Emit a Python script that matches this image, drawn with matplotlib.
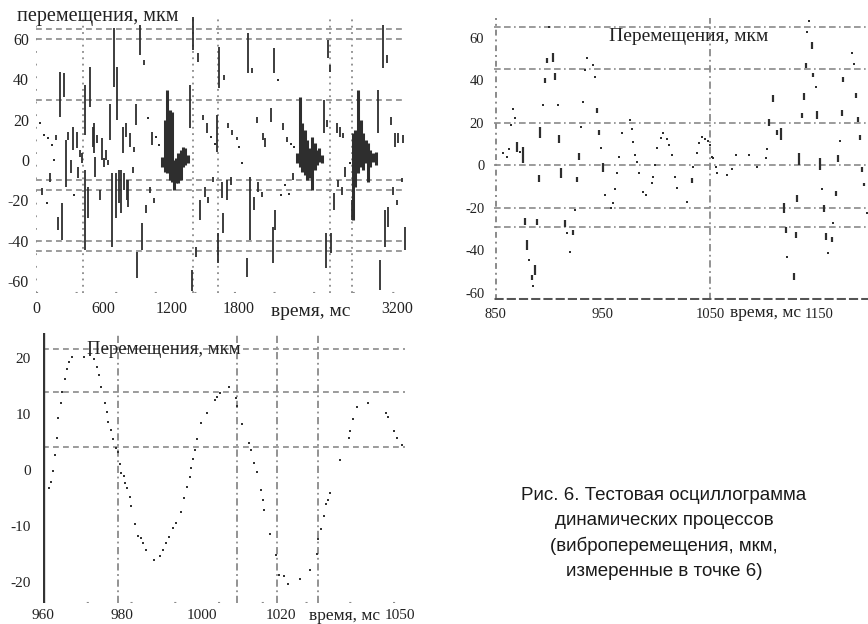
import matplotlib
matplotlib.use("Agg")
import matplotlib.pyplot as plt

SERIF = ["Liberation Serif", "DejaVu Serif"]
SANS = ["Liberation Sans", "DejaVu Sans"]

# ---------------- Panel 1: 0..3200 ms overview ----------------
p1_bar_t = [124, 50, 177, 213, 248, 198, 228, 266, 286, 308, 325, 361, 375, 390, 405,
            434, 434, 464, 479, 503, 514, 523, 543, 567, 582, 603, 621, 641, 656, 671,
            694, 709, 721, 736, 751, 769, 780, 798, 809, 818, 833, 857, 869, 887, 898,
            922, 937, 957, 975, 1011, 1031, 1046,
            1365, 1389, 1383, 1418, 1439, 1454, 1478, 1498, 1513, 1528, 1567, 1602, 1616,
            1625, 1646, 1655, 1667, 1690, 1705, 1726, 1735, 1779, 1868, 1882, 1897, 1918,
            1933, 1957, 1971, 2001, 2015, 2030, 2080, 2098, 2119, 2113, 2187, 2222, 2275,
            2553, 2571, 2591, 2606, 2613, 2583, 2645, 2666, 2680, 2695, 2710, 2725, 2739,
            2799, 3035, 3050, 3073, 3094, 3109, 3124, 3145, 3162, 3183, 3197, 3212, 3242,
            3256, 3271]
p1_bar_lo = [-10.7, -17.3, 9.9, 21.5, 31.4, -34.7, -39.7, -13.2, 9.9, -6.6, 5.0, 5.8, -9.1, 1.7, -1.7,
             12.4, -44.6, -28.9, 26.4, 6.6, 3.3, -8.3, 8.3, -19.8, 0.0, -3.3, 0.0, -2.5, 9.9, -43.0,
             36.3, -28.9, 19.8, -21.5, -26.4, 3.3, -14.9, 11.6, -19.8, -23.1, 6.6, -6.6, 4.1, 17.3, -58.7,
             52.1, -44.6, 47.1, -26.4, -16.5, 7.4, -21.5,
             15.7, 54.5, -65.0, -48.0, 48.7, -29.8, 19.8, -18.2, 13.2, -21.5, -10.7, 4.1, -51.2,
             35.5, -19.0, -36.3, 39.7, -19.8, 15.7, -12.4, 12.4, 9.9, -57.9, 43.0, -39.7, 43.0,
             -24.8, 18.2, -15.7, -18.2, 9.9, 6.6, 19.0, -51.2, -34.7, 43.0, 14.9, 9.1, -9.9,
             13.2, -53.7, 50.4, 43.8, -46.3, 16.5, -24.8, 13.2, -13.2, 11.6, -17.3, 10.7, -8.3,
             -29.8, 13.2, -64.5, 45.5, -43.0, 47.9, -33.0, 17.3, -17.3, 6.6, -22.3, 8.3, -10.7,
             8.3, -44.6]
p1_bar_hi = [-6.6, -14.0, 12.4, 43.8, 43.0, -28.1, -21.5, 9.9, 14.0, 0.0, 16.5, 14.0, -3.3, 5.0, 3.3,
             37.0, -5.0, -13.2, 46.3, 16.5, 18.2, 1.7, 12.4, -14.9, 10.7, 0.8, 5.0, 0.0, 28.0, -6.6,
             65.3, -6.6, 46.3, -5.0, -5.0, 16.5, -6.6, 18.2, -9.9, -9.9, 13.2, -3.3, 6.6, 28.0, -45.5,
             66.9, -31.4, 49.6, -22.3, -13.2, 14.0, -19.0,
             37.2, 71.0, -54.5, -43.0, 52.9, -19.8, 22.3, -13.2, 18.2, -18.2, -8.3, 22.3, -36.3,
             56.2, -10.7, -26.4, 42.1, -9.9, 18.2, -8.3, 14.9, 11.4, -48.7, 62.8, -8.3, 45.5,
             -18.2, 21.5, -10.7, -15.7, 13.2, 10.7, 25.6, -33.0, -24.8, 55.4, 18.2, 11.6, -6.6,
             29.7, -36.3, 59.5, 47.1, -36.3, 19.8, -16.5, 18.2, -9.9, 16.5, -13.2, 13.2, -3.3,
             -19.8, 34.7, -49.6, 66.9, -24.8, 52.1, -23.1, 21.5, -13.2, 13.2, -19.8, 13.2, -9.1,
             12.4, -33.0]
p1_dot_t = [35, 74, 109, 139, 162, 95, 337, 996, 1064, 1093, 1549, 1587, 1803, 1824, 2148,
            2169, 2207, 2245, 2260, 2290, 2784]
p1_dot_v = [18.5, 12.4, 10.7, 7.4, 0.0, -21.5, -17.3, 20.7, 11.6, 7.4, 11.6, 8.0, 6.6, -1.7, 39.7,
            -17.3, -12.4, -17.0, 8.0, 6.5, -1.7]
# dense bursts
p1_burst_t = [1117, 1141, 1163, 1184, 1203, 1222, 1243, 1262, 1281, 1301, 1324, 1348,
              2311, 2336, 2358, 2382, 2404, 2425, 2447, 2471, 2493, 2513, 2535,
              2809, 2831, 2855, 2878, 2900, 2921, 2943, 2965, 2988, 3012]
p1_burst_lo = [-3.3, -5.8, -6.5, -9.9, -10.7, -14.9, -11.6, -11.6, -9.9, -3.3, -2.5, -1.7,
               -1.7, -3.3, -5.8, -7.4, -9.9, -9.1, -14.9, -5.0, -2.5, -0.8, -1.7,
               -29.8, -13.2, -6.6, -3.3, -5.0, -1.7, -10.7, -3.3, -0.8, -2.5]
p1_burst_hi = [1.7, 19.8, 34.7, 24.8, 24.0, 0.0, 0.8, 3.3, 5.0, 6.6, 5.8, 2.5,
               3.3, 31.4, 18.2, 14.9, 9.9, 5.8, 11.6, 8.3, 5.0, 5.8, 2.5,
               13.2, 14.9, 34.7, 19.8, 13.2, 9.9, 8.3, 5.0, 3.3, 4.1]
p1_hgrid = [65, 60, 30, -10, -15, -40, -45]
p1_vgrid = [417, 1392, 1613, 2606, 2801]
p1_xticks = [0, 600, 1200, 1800, 3200]
p1_xticklabels = ["0", "600", "1200", "1800", "3200"]
p1_yticks = [60, 40, 20, 0, -20, -40, -60]
p1_yticklabels = ["60", "40", "20", "0", "-20", "-40", "-60"]

# ---------------- Panel 2: 850..1200 ms ----------------
p2_bar_t = [870.8, 876.4, 891.9, 891.3, 896.5, 898.1, 904.3, 905.8, 909.8, 911.4, 915.1, 877.9,
            879.5, 884.1, 887.2, 888.8, 922.3, 926.6, 928.5, 945.3, 947.1, 950.8, 1033.0,
            1105.2, 1108.3, 1112.0, 1116.0, 1118.8, 1120.7, 1128.1, 1129.7, 1131.2, 1133.1,
            1135.3, 1137.4, 1139.0, 1144.6, 1146.1, 1149.8, 1152.3, 1156.0, 1157.6, 1163.2,
            1166.9, 1168.8, 1172.5, 1174.0, 1185.8, 1187.4, 1189.5, 1191.4, 1193.3]
p2_bar_lo = [6.3, 0.8, 12.5, -7.8, 38.4, 47.8, 48.6, 40.0, 10.2, -6.3, -29.0, -28.2,
             -40.0, -54.1, -51.8, -28.2, -32.9, -7.8, 2.4, 24.3, 14.1, -3.1, -8.3,
             18.4, 29.8, 14.1, 11.8, -22.4, -32.2, -54.1, -34.5, -17.3, 0.0,
             22.0, 30.6, 45.5, 54.4, 41.3, 21.5, -2.4, -22.0, -35.3, -36.1,
             -14.4, 1.6, 23.1, 39.2, 31.4, 20.4, 11.8, -3.1, -9.9]
p2_bar_hi = [11.0, 8.6, 18.0, -4.7, 40.8, 50.2, 52.5, 43.1, 14.1, -1.6, -25.9, -25.0,
             -35.3, -51.8, -47.0, -25.6, -30.6, -5.5, 5.5, 26.7, 16.5, 0.8, -6.3,
             21.5, 32.9, 16.5, 17.3, -18.0, -29.0, -51.0, -31.4, -14.1, 5.5,
             24.3, 34.0, 48.1, 58.0, 43.4, 25.6, 3.1, -18.8, -32.2, -33.7,
             -12.1, 4.7, 25.9, 41.6, 34.0, 22.4, 14.1, -0.8, -8.3]
p2_dot_t = [900.2, 857.7, 860.9, 863.3, 866.4, 864.9, 868.6, 873.3, 895.0, 908.3, 881.6, 885.1,
            917.3, 919.8, 924.4, 930.0, 932.2, 935.9, 934.0, 941.5, 943.0, 948.6, 952.3, 957.6,
            960.0, 961.9, 963.8, 965.6, 967.9, 975.6, 977.2, 978.7, 980.2, 982.4, 984.3, 988.0,
            990.5, 995.8, 997.3, 998.8, 1001.0, 1004.2, 1006.6, 1010.3, 1012.2, 1014.3, 1017.4,
            1019.6, 1028.3, 1034.5, 1038.2, 1040.0, 1042.3, 1045.3, 1047.9, 1050.0, 1051.6,
            1053.1, 1055.3, 1056.8, 1066.1, 1070.2, 1073.9, 1086.6, 1094.0, 1102.1, 1103.3,
            1122.0, 1140.5, 1142.4, 1148.3, 1153.9, 1159.5, 1164.7, 1171.0, 1181.8, 1184.0,
            1195.8]
p2_dot_v = [64.8, 5.5, 3.9, 7.4, 26.2, 18.8, 22.0, 6.3, 28.2, 28.2, -44.7, -56.8,
            -32.2, -40.8, -21.2, 17.7, 29.8, 50.2, 44.7, 47.0, 41.6, 7.8, -14.1, -20.4,
            -18.0, -11.4, -3.9, 3.9, 14.9, 21.2, 16.8, 11.0, 4.7, 1.6, -3.9, -12.5,
            -14.1, -8.6, -5.5, 0.0, 7.8, 12.5, 14.9, 12.1, 9.4, 4.7, -5.5,
            -11.0, -17.3, -0.8, 5.5, 10.2, 13.0, 12.1, 11.4, 9.4, 3.9,
            3.1, -0.8, -3.9, -4.7, -2.0, 4.7, 4.7, -0.8, 3.1, 7.4,
            -43.1, 62.7, 67.9, 36.8, -11.4, -41.6, -27.5, 11.4, 52.8, 47.4,
            -22.4]
p2_hgrid = [65, 45, 20, 0, -20, -29]
p2_vgrid = [1050]
p2_xticks = [850, 950, 1050, 1152]
p2_xticklabels = ["850", "950", "1050", "1150"]
p2_yticks = [60, 40, 20, 0, -20, -40, -60]
p2_yticklabels = ["60", "40", "20", "0", "-20", "-40", "-60"]

# ---------------- Panel 3: 960..1050 ms ----------------
p3_t = [960.1, 961.6, 962.0, 962.4, 963.0, 963.5, 963.9, 964.5, 964.9, 965.5, 966.0, 966.6,
        967.3, 970.4, 971.9, 972.9, 973.7, 974.0, 974.6, 975.6, 976.1, 976.5, 977.1, 977.7,
        978.3, 978.9, 979.3, 979.6, 980.3, 980.7, 981.2, 981.8, 982.1, 983.1, 984.0, 984.6,
        985.3, 986.0, 987.9, 989.6, 990.2, 990.9, 991.7, 992.8, 993.4, 994.7, 995.5, 996.4,
        997.0, 997.4, 997.9, 998.2, 998.7, 999.7, 1001.2, 1003.3, 1003.9, 1004.7, 1006.8,
        1008.5, 1008.9, 1010.1, 1011.8, 1012.4, 1013.1, 1013.8, 1014.8, 1015.4, 1015.8,
        1017.1, 1018.8, 1019.4, 1020.6, 1021.6, 1024.7, 1027.3, 1029.0, 1029.4, 1030.0,
        1030.7, 1031.4, 1031.9, 1032.3, 1034.7, 1037.0, 1037.4, 1038.2, 1039.1, 1041.8,
        1046.4, 1046.9, 1048.5, 1049.3, 1050.4]
p3_v = [-5.05, -3.3, -2.1, -0.1, 2.7, 5.8, 9.2, 11.9, 14.0, 16.2, 18.0, 19.2,
        20.2, 20.2, 20.6, 19.9, 18.4, 17.0, 14.9, 12.0, 10.3, 8.6, 7.1, 5.6,
        3.9, 3.3, 1.0, -0.6, -1.1, -2.3, -3.3, -4.8, -6.5, -9.6, -11.8, -12.2,
        -13.1, -14.3, -16.1, -15.4, -14.3, -13.1, -11.9, -10.4, -9.5, -7.5, -5.0, -3.0,
        -1.3, 0.3, 1.9, 3.5, 5.6, 8.4, 10.2, 12.5, 13.1, 13.8, 14.9,
        12.8, 11.4, 8.2, 4.8, 3.5, 1.2, -0.3, -3.6, -5.4, -7.1,
        -11.4, -15.1, -18.7, -18.9, -20.3, -19.5, -17.8, -15.0, -12.3, -10.5,
        -8.2, -6.1, -5.4, -4.1, 1.7, 5.8, 7.0, 9.1, 11.2, 11.9,
        10.1, 9.4, 7.0, 5.8, 4.5]
p3_hgrid = [21.6, 13.9, 4.1]
p3_vgrid = [978.8, 1009.0, 1019.0, 1029.3]
p3_xticks = [960, 980, 1000, 1020, 1050]
p3_xticklabels = ["960", "980", "1000", "1020", "1050"]
p3_yticks = [20, 10, 0, -10, -20]
p3_yticklabels = ["20", "10", "0", "-10", "-20"]

caption_lines = ["Рис. 6. Тестовая осциллограмма",
                 "динамических процессов",
                 "(виброперемещения, мкм,",
                 "измеренные в точке 6)"]

GRID = "#8a8a8a"
INK = "#2e2e2e"

W, H = 868, 624
fig = plt.figure(figsize=(W / 100, H / 100), dpi=100)
fig.patch.set_facecolor("white")


def box(l, t, r, b):
    return [l / W, 1 - b / H, (r - l) / W, (b - t) / H]


def style_axes(ax, xticks, xlabels, yticks, ylabels, fs):
    for s in ax.spines.values():
        s.set_visible(False)
    ax.set_xticks(xticks)
    ax.set_xticklabels(xlabels, fontfamily=SERIF, fontsize=fs)
    ax.set_yticks(yticks)
    ax.set_yticklabels(ylabels, fontfamily=SERIF, fontsize=fs)
    ax.tick_params(length=0, pad=6, colors="#222222")


# ---- Panel 1 ----
ax1 = fig.add_axes(box(36, 15, 406, 293))
ax1.set_xlim(0, 3280)
ax1.set_ylim(-65.9, 71.9)
for y in p1_hgrid:
    ax1.axhline(y, color=GRID, lw=1.2, ls=(0, (3.5, 2.5)), zorder=1)
for x in p1_vgrid:
    ax1.axvline(x, color=GRID, lw=1.3, ls=(0, (1, 2.5)), zorder=1)
ax1.axvline(0, color=GRID, lw=1.3, ls=(0, (1, 6)), zorder=1)
ax1.axhline(-65.9, color=GRID, lw=1.5, ls=(0, (1, 18)), zorder=1)
ax1.vlines(p1_bar_t, p1_bar_lo, p1_bar_hi, color=INK, lw=1.3, zorder=3)
ax1.vlines(p1_burst_t, p1_burst_lo, p1_burst_hi, color=INK, lw=2.2, zorder=3)
ax1.scatter(p1_dot_t, p1_dot_v, s=3, marker="s", color=INK, lw=0, zorder=3)
style_axes(ax1, p1_xticks, p1_xticklabels, p1_yticks, p1_yticklabels, 11.5)
ax1.tick_params(axis="y", pad=5)
ax1.tick_params(axis="x", pad=6)
ax1.annotate("время, мс", xy=(2440, 0), xycoords=("data", "axes fraction"),
             xytext=(0, -13), textcoords="offset points", ha="center", va="center",
             fontfamily=SERIF, fontsize=14, color="#222222")
fig.text(98 / W, 1 - 17 / H, "перемещения, мкм", ha="center", va="center",
         fontfamily=SERIF, fontsize=14.5, color="#222222")

# ---- Panel 2 ----
ax2 = fig.add_axes(box(494, 18, 868, 300))
ax2.set_xlim(849, 1197)
ax2.set_ylim(-63.5, 69.2)
DASHDOT = (0, (4, 2, 4, 2, 1, 2))
for y in p2_hgrid:
    ax2.axhline(y, color=GRID, lw=1.2, ls=DASHDOT, zorder=1)
for x in p2_vgrid:
    ax2.axvline(x, color=GRID, lw=1.3, ls=(0, (4, 2, 1, 2)), zorder=1)
ax2.axvline(850.5, color=GRID, lw=1.4, ls=(0, (3, 2, 1, 2)), zorder=1)
ax2.axhline(-63, color="#555555", lw=2.2, ls=(0, (3, 1)), zorder=2)
ax2.vlines(p2_bar_t, p2_bar_lo, p2_bar_hi, color=INK, lw=1.6, zorder=3)
ax2.scatter(p2_dot_t, p2_dot_v, s=4, marker="s", color=INK, lw=0, zorder=3)
style_axes(ax2, p2_xticks, p2_xticklabels, p2_yticks, p2_yticklabels, 10.5)
ax2.tick_params(axis="y", pad=7)
ax2.tick_params(axis="x", pad=6)
ax2.annotate("время, мс", xy=(1102, 0), xycoords=("data", "axes fraction"),
             xytext=(0, -9), textcoords="offset points", ha="center", va="center",
             fontfamily=SERIF, fontsize=12.5, color="#222222")
ax2.text(1030, 60.5, "Перемещения, мкм", ha="center", va="center",
         fontfamily=SERIF, fontsize=14, color="#222222", zorder=4)

# ---- Panel 3 ----
ax3 = fig.add_axes(box(43, 333, 405, 603))
ax3.set_xlim(960, 1051.2)
ax3.set_ylim(-23.75, 24.46)
for y in p3_hgrid:
    ax3.axhline(y, color=GRID, lw=1.2, ls=(0, (3.5, 2.5)), zorder=1)
for x in p3_vgrid:
    ax3.axvline(x, color=GRID, lw=1.3, ls=(0, (4, 2, 1, 2)), zorder=1)
ax3.axvline(960, color="#333333", lw=2.4, zorder=2)
ax3.axhline(-23.75, color=GRID, lw=1.5, ls=(0, (1, 20)), zorder=1)
ax3.scatter(p3_t, p3_v, s=4.5, marker="s", color="#333333", lw=0, zorder=3)
style_axes(ax3, p3_xticks, p3_xticklabels, p3_yticks, p3_yticklabels, 11)
ax3.tick_params(axis="y", pad=9)
ax3.tick_params(axis="x", pad=4)
ax3.annotate("время, мс", xy=(1036, 0), xycoords=("data", "axes fraction"),
             xytext=(0, -9), textcoords="offset points", ha="center", va="center",
             fontfamily=SERIF, fontsize=12.5, color="#222222")
ax3.text(990.5, 21.6, "Перемещения, мкм", ha="center", va="center",
         fontfamily=SERIF, fontsize=13.5, color="#222222", zorder=4)

# ---- Caption ----
for i, line in enumerate(caption_lines):
    fig.text(664 / W, 1 - (495 + i * 25.4) / H, line, ha="center", va="center",
             fontfamily=SANS, fontsize=13.5, color="#1a1a1a")

fig.savefig("out.png", dpi=100, facecolor="white")
